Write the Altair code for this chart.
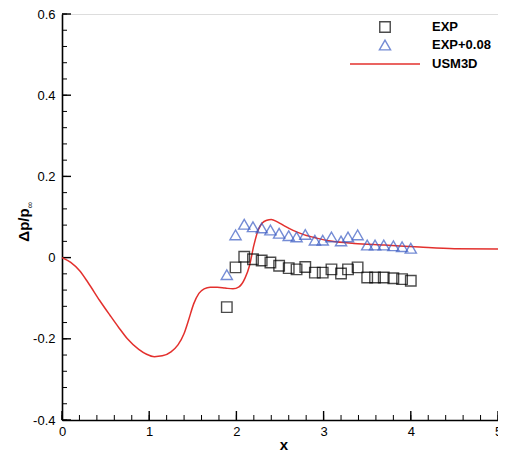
import altair as alt
import pandas as pd

# USM3D computed line
usm_x = [0.0, 0.1, 0.2, 0.3, 0.43, 0.55, 0.65, 0.75, 0.88, 0.97, 1.06, 1.15, 1.25, 1.33,
         1.40, 1.45, 1.51, 1.57, 1.63, 1.70, 1.78, 1.87, 1.96, 2.03, 2.10, 2.15, 2.20,
         2.25, 2.30, 2.35, 2.40, 2.47, 2.55, 2.65, 2.78, 2.92, 3.10, 3.35, 3.70, 4.10,
         4.50, 5.0]
usm_y = [0.0, -0.012, -0.032, -0.062, -0.105, -0.142, -0.172, -0.2, -0.226, -0.238, -0.244,
         -0.242, -0.232, -0.215, -0.187, -0.155, -0.114, -0.088, -0.077, -0.073, -0.073,
         -0.075, -0.077, -0.072, -0.05, -0.02, 0.03, 0.068, 0.086, 0.092, 0.094, 0.088,
         0.078, 0.067, 0.056, 0.048, 0.04, 0.035, 0.031, 0.026, 0.022, 0.021]

# Experiment
exp_x = [1.89, 1.99, 2.09, 2.19, 2.29, 2.39, 2.49, 2.60, 2.69, 2.79, 2.90, 2.99, 3.09,
         3.20, 3.28, 3.39, 3.50, 3.59, 3.69, 3.80, 3.90, 4.00]
exp_y = [-0.122, -0.024, 0.002, -0.004, -0.007, -0.012, -0.020, -0.026, -0.029, -0.023,
         -0.037, -0.037, -0.029, -0.039, -0.029, -0.024, -0.049, -0.049, -0.049, -0.051,
         -0.053, -0.057]
# Experiment shifted by +0.08
exp8_y = [-0.042, 0.056, 0.082, 0.076, 0.073, 0.068, 0.060, 0.054, 0.051, 0.057,
          0.043, 0.043, 0.051, 0.041, 0.051, 0.056, 0.031, 0.031, 0.031, 0.029,
          0.027, 0.023]

x_major = [0, 1, 2, 3, 4, 5]
y_major = [-0.4, -0.2, 0, 0.2, 0.4, 0.6]
x_minor = [i / 5 for i in range(26)]
y_minor = [-0.4 + i * 0.04 for i in range(26)]

legend_labels = ["EXP", "EXP+0.08", "USM3D"]
x_title = "x"

FONT = "Liberation Sans"
W, H = 436, 406

xs = alt.Scale(domain=[0, 5], nice=False, zero=False)
ys = alt.Scale(domain=[-0.4, 0.6], nice=False, zero=False)

df_line = pd.DataFrame({"x": usm_x, "y": usm_y})
df_exp = pd.DataFrame({"x": exp_x, "y": exp_y})
df_exp8 = pd.DataFrame({"x": exp_x, "y": exp8_y})

line = alt.Chart(df_line).mark_line(color="#e3302d", strokeWidth=1.5, interpolate="monotone").encode(
    x=alt.X("x:Q", scale=xs, axis=alt.Axis(
        values=x_major, ticks=False, grid=False, domainColor="black", domainWidth=1.6,
        labelFont=FONT, labelFontSize=13, labelColor="black", labelPadding=5,
        labelFlush=False, labelOverlap=False, labelExpr="toString(datum.value)",
        title=None)),
    y=alt.Y("y:Q", scale=ys, axis=alt.Axis(
        values=y_major, ticks=False, grid=False, domainColor="black", domainWidth=1.6,
        labelFont=FONT, labelFontSize=13, labelColor="black", labelPadding=7,
        labelFlush=False, labelOverlap=False,
        labelExpr="datum.value == 0 ? '0' : toString(round(datum.value*10)/10)",
        title=None)),
)

sq = alt.Chart(df_exp).mark_point(shape="square", size=110, filled=False, color="black",
                                  strokeWidth=1.4).encode(
    x=alt.X("x:Q", scale=xs), y=alt.Y("y:Q", scale=ys))
tri = alt.Chart(df_exp8).mark_point(shape="triangle-up", size=125, filled=False,
                                    color="#3b5cc4", strokeWidth=1.4).encode(
    x=alt.X("x:Q", scale=xs), y=alt.Y("y:Q", scale=ys))

# inward tick marks
xmaj = alt.Chart(pd.DataFrame({"t": x_major})).mark_rule(color="black", strokeWidth=1.4).encode(
    x=alt.X("t:Q", scale=xs), y=alt.value(H), y2=alt.value(H - 9))
xmin = alt.Chart(pd.DataFrame({"t": x_minor})).mark_rule(color="black", strokeWidth=1).encode(
    x=alt.X("t:Q", scale=xs), y=alt.value(H), y2=alt.value(H - 5))
ymaj = alt.Chart(pd.DataFrame({"t": y_major})).mark_rule(color="black", strokeWidth=1.4).encode(
    y=alt.Y("t:Q", scale=ys), x=alt.value(0), x2=alt.value(9))
ymin = alt.Chart(pd.DataFrame({"t": y_minor})).mark_rule(color="black", strokeWidth=1).encode(
    y=alt.Y("t:Q", scale=ys), x=alt.value(0), x2=alt.value(5))

# axis titles
xtitle = alt.Chart(pd.DataFrame({"t": [x_title]})).mark_text(
    font=FONT, fontSize=15, fontWeight="bold", color="black",
    align="center", baseline="alphabetic").encode(
    text="t:N", x=alt.value(W / 2 + 4), y=alt.value(H + 30))
ytitle = alt.Chart(pd.DataFrame({"t": ["Δp/p"]})).mark_text(
    angle=270, font=FONT, fontSize=15, fontWeight="bold", color="black",
    align="center", baseline="middle").encode(
    text="t:N", x=alt.value(-38), y=alt.value(211))
ysub = alt.Chart(pd.DataFrame({"t": ["∞"]})).mark_text(
    angle=270, font=FONT, fontSize=9, color="black",
    align="center", baseline="middle").encode(
    text="t:N", x=alt.value(-32), y=alt.value(191))

# legend
leg_sq = alt.Chart(pd.DataFrame({"k": [legend_labels[0]]})).mark_point(
    shape="square", size=110, filled=False, color="black", strokeWidth=1.4).encode(
    x=alt.value(323), y=alt.value(13))
leg_tri = alt.Chart(pd.DataFrame({"k": [legend_labels[1]]})).mark_point(
    shape="triangle-up", size=125, filled=False, color="#3b5cc4", strokeWidth=1.4).encode(
    x=alt.value(323), y=alt.value(31))
leg_line = alt.Chart(pd.DataFrame({"k": [legend_labels[2]]})).mark_rule(
    color="#e3302d", strokeWidth=1.5).encode(
    x=alt.value(288), x2=alt.value(358), y=alt.value(50))
leg_txt = alt.Chart(pd.DataFrame({"k": legend_labels, "yy": [13, 31, 50]})).mark_text(
    align="left", baseline="middle", font=FONT, fontSize=13, fontWeight="bold",
    color="black").encode(
    text="k:N", x=alt.value(370), y=alt.Y("yy:Q", scale=None))

chart = alt.layer(
    xmin, xmaj, ymin, ymaj, line, sq, tri, xtitle, ytitle, ysub,
    leg_sq, leg_tri, leg_line, leg_txt
).properties(
    width=W, height=H,
    autosize=alt.AutoSizeParams(type="none"),
    padding={"left": 54, "top": 6, "right": 0, "bottom": 32},
).configure_view(stroke=None).configure(background="white")

chart.save("out.html", embed_options={"renderer": "svg", "actions": False})
